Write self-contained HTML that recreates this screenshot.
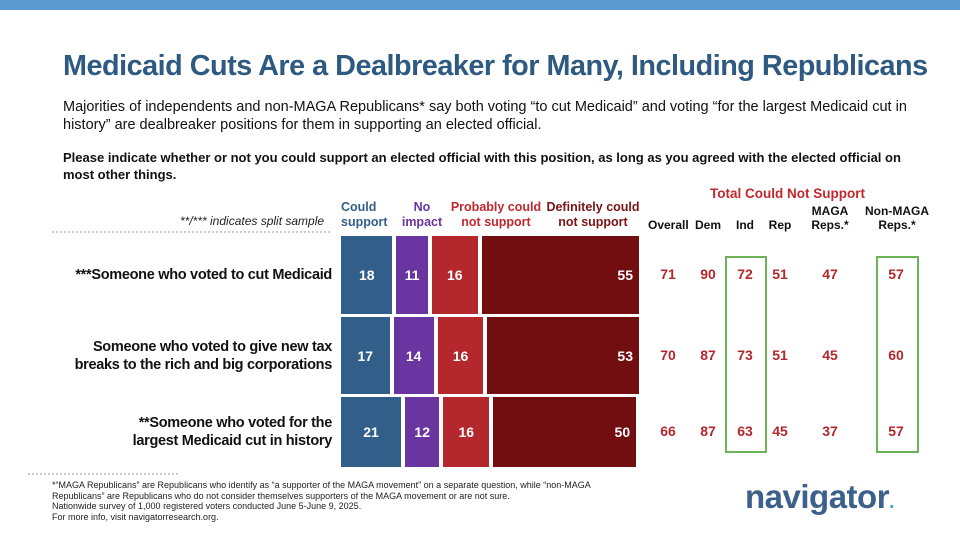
<!DOCTYPE html>
<html><head><meta charset="utf-8"><style>
body{margin:0;width:960px;height:540px;background:#fff;font-family:"Liberation Sans",sans-serif;position:relative;overflow:hidden}
.a{position:absolute}
.hd{font-weight:bold;font-size:12.5px;line-height:15px;text-align:center}
.rl{position:absolute;right:628px;text-align:right;font-size:14.5px;font-weight:bold;color:#111;line-height:18px;letter-spacing:-0.3px}
.num{position:absolute;font-size:14px;font-weight:bold;color:#b3272d;text-align:center;width:40px}
.ch{position:absolute;font-size:12px;font-weight:bold;color:#111;text-align:center;line-height:14px}
</style></head><body>
<div class="a" style="left:0;top:0;width:960px;height:10px;background:#5b9bd0"></div>
<div class="a" style="left:63px;top:50px;font-size:28.8px;font-weight:bold;color:#2e5a82;letter-spacing:-0.5px;white-space:nowrap">Medicaid Cuts Are a Dealbreaker for Many, Including Republicans</div>
<div class="a" style="left:63px;top:98px;width:850px;font-size:14.5px;line-height:18px;color:#111">Majorities of independents and non-MAGA Republicans* say both voting “to cut Medicaid” and voting “for the largest Medicaid cut in history” are dealbreaker positions for them in supporting an elected official.</div>
<div class="a" style="left:63px;top:149px;width:860px;font-size:13px;line-height:17px;font-weight:bold;color:#111">Please indicate whether or not you could support an elected official with this position, as long as you agreed with the elected official on most other things.</div>
<div class="a" style="left:180px;top:214px;font-size:12px;font-style:italic;color:#222">**/*** indicates split sample</div>
<div class="a" style="left:52px;top:231px;width:278px;border-top:2px dotted #ccc"></div>
<div class="a" style="left:28px;top:473px;width:150px;border-top:2px dotted #ccc"></div>
<div class="a hd" style="left:336px;top:200px;width:60px;color:#325e8a;text-align:left;padding-left:5px">Could support</div>
<div class="a hd" style="left:397px;top:200px;width:50px;color:#6a35a0">No impact</div>
<div class="a hd" style="left:446px;top:200px;width:100px;color:#c1272d">Probably could not support</div>
<div class="a hd" style="left:538px;top:200px;width:110px;color:#7a1414">Definitely could not support</div>
<div class="a" style="left:710px;top:186px;font-size:13.5px;font-weight:bold;color:#c1272d">Total Could Not Support</div>
<div class="ch" style="left:648px;top:218px;width:40px">Overall</div>
<div class="ch" style="left:688px;top:218px;width:40px">Dem</div>
<div class="ch" style="left:725px;top:218px;width:40px">Ind</div>
<div class="ch" style="left:760px;top:218px;width:40px">Rep</div>
<div class="ch" style="left:805px;top:204px;width:50px">MAGA<br>Reps.*</div>
<div class="ch" style="left:857px;top:204px;width:80px">Non-MAGA<br>Reps.*</div>
<div class="a" style="left:725px;top:256px;width:38px;height:193px;border:2px solid #6db35a"></div>
<div class="a" style="left:876px;top:256px;width:39px;height:193px;border:2px solid #6db35a"></div>
<div id="chart"></div>
<div class="a" style="left:52px;top:480px;width:560px;font-size:9px;line-height:10.5px;color:#222">*“MAGA Republicans” are Republicans who identify as “a supporter of the MAGA movement” on a separate question, while “non-MAGA Republicans” are Republicans who do not consider themselves supporters of the MAGA movement or are not sure.<br>Nationwide survey of 1,000 registered voters conducted June 5-June 9, 2025.<br>For more info, visit navigatorresearch.org.</div>
<div class="a" style="left:745px;top:478px;font-size:33px;font-weight:bold;color:#3b6089;letter-spacing:-0.5px">navigator<span style="color:#5b9bd0;font-size:20px">.</span></div>
<script>
const labels=["***Someone who voted to cut Medicaid","Someone who voted to give new tax<br>breaks to the rich and big corporations","**Someone who voted for the<br>largest Medicaid cut in history"];
const couldSupport=[18,17,21];
const noImpact=[11,14,12];
const probablyNot=[16,16,16];
const definitelyNot=[55,53,50];
const overall=[71,70,66];
const dem=[90,87,87];
const ind=[72,73,63];
const rep=[51,51,45];
const maga=[47,45,37];
const nonMaga=[57,60,57];
const colors=["#325e8a","#6a35a0","#b3272d","#720e10"];
const x0=341,scale=2.86,gap=4,rowTop=[236,317,397],rowH=[78,77,70];
const chart=document.getElementById('chart');
function xs(v){return v*scale;}
labels.forEach((lab,i)=>{
  const segs=[couldSupport[i],noImpact[i],probablyNot[i],definitelyNot[i]];
  let x=x0;
  segs.forEach((v,j)=>{
    const d=document.createElement('div');
    
    
    d.className='a';
    const w=xs(v);
    d.style.cssText=`left:${x}px;top:${rowTop[i]}px;width:${w}px;height:${rowH[i]}px;background:${colors[j]};color:#fff;font-weight:bold;font-size:14px;display:flex;align-items:center;justify-content:${j==3?'flex-end':'center'};box-sizing:border-box;padding-right:${j==3?6:0}px`;
    d.textContent=v;
    chart.appendChild(d);
    x+=w+gap;
  });
  const l=document.createElement('div');
  
  
  l.className='rl';
  l.style.width='300px';
  const mid=rowTop[i]+rowH[i]/2;
  l.innerHTML=lab;
  chart.appendChild(l);
  const h=l.getBoundingClientRect().height||18;
  l.style.top=(mid-h/2)+'px';
  const cols=[[overall,648],[dem,688],[ind,725],[rep,760],[maga,810],[nonMaga,876]];
  cols.forEach(([arr,cx])=>{
    const n=document.createElement('div');
    
    
    n.className='num';
    n.style.left=cx+'px';n.style.top=(mid-9)+'px';
    n.textContent=arr[i];
    chart.appendChild(n);
  });
});
</script>
</body></html>
